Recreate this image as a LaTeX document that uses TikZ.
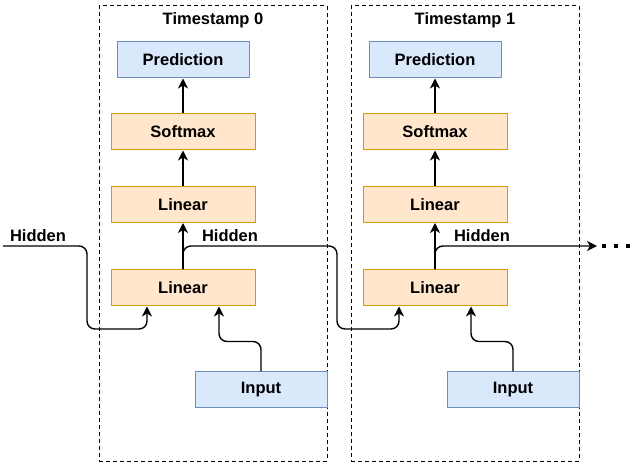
\documentclass[tikz,border=0pt]{standalone}
\usepackage{fontspec}
\setmainfont{Liberation Sans}
\usetikzlibrary{arrows.meta}

\definecolor{bluefill}{HTML}{DAE8FC}
\definecolor{bluedraw}{HTML}{6C8EBF}
\definecolor{orangefill}{HTML}{FFE6CC}
\definecolor{orangedraw}{HTML}{D79B00}

\tikzset{
  data/.style={draw=bluedraw,fill=bluefill,line width=1,minimum width=132,minimum height=36},
  layer/.style={draw=orangedraw,fill=orangefill,line width=1,minimum width=144,minimum height=36},
  frame/.style={draw,line width=1,dash pattern=on 4 off 3,minimum width=228,minimum height=455},
  link/.style={line width=1.4,rounded corners=8,-{Stealth[length=10,width=10,inset=3]}},
}

\begin{document}
\begin{tikzpicture}[x=1pt,y=-1pt,font=\bfseries\fontsize{16.5}{19}\selectfont]
      \useasboundingbox (0,0) rectangle (630,465);
      \pgfmathsetmacro{\dx}{252}

      % timestamp 0
      \node[frame] (F0) at (213,233.5) {};
      \node (T0) at (213,20) {Timestamp 0};
      \node[data]  (P0) at (183,60)    {Prediction};
      \node[layer] (S0) at (183,132)   {Softmax};
      \node[layer] (L0) at (183,204.5) {Linear};
      \node[layer] (H0) at (183,288)   {Linear};
      \node[data]  (I0) at (261,390)   {Input};

      % timestamp 1
      \node[frame] (F1) at (213+\dx,233.5) {};
      \node (T1) at (213+\dx,20) {Timestamp 1};
      \node[data]  (P1) at (183+\dx,60)    {Prediction};
      \node[layer] (S1) at (183+\dx,132)   {Softmax};
      \node[layer] (L1) at (183+\dx,204.5) {Linear};
      \node[layer] (H1) at (183+\dx,288)   {Linear};
      \node[data]  (I1) at (261+\dx,390)   {Input};

      \coordinate (start) at (3,246);
      \coordinate (out) at (597,246);
      \coordinate (more) at (630,246);

      \node (h0) at (38,236)  {Hidden};
      \node (h1) at (230,236) {Hidden};
      \node (h2) at (482,236) {Hidden};

      \draw[link] (S0) -- (P0);
      \draw[link] (L0) -- (S0);
      \draw[link] (H0) -- (L0);
      \draw[link] (I0.north) -- ++(0,-30) -| ([xshift=36pt]H0.south);

      \draw[link] (S1) -- (P1);
      \draw[link] (L1) -- (S1);
      \draw[link] (H1) -- (L1);
      \draw[link] (I1.north) -- ++(0,-30) -| ([xshift=36pt]H1.south);

      % hidden state passed along
      \draw[link] (start) -| (87,329) -| ([xshift=-36pt]H0.south);
      \draw[link] (H0.north) |- (337,246) -- (337,329) -| ([xshift=-36pt]H1.south);
      \draw[link] (H1.north) |- (out);
      \draw[line width=4,dash pattern=on 4 off 8,shorten <=5] (out) -- (more);
    \end{tikzpicture}
\end{document}
